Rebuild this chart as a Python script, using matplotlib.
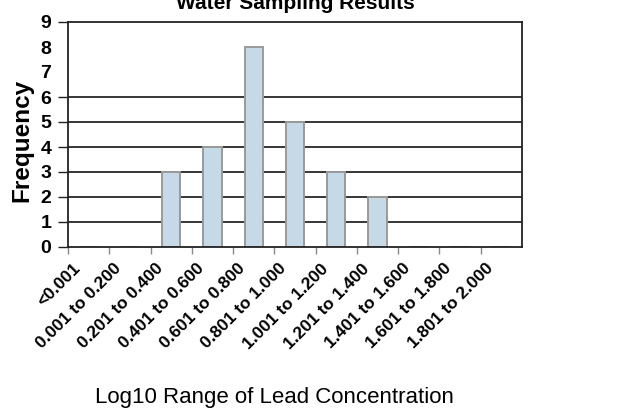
import matplotlib
matplotlib.use("Agg")
import matplotlib.pyplot as plt
import matplotlib.transforms as mtransforms
import numpy as np

categories = ["<0.001", "0.001 to 0.200", "0.201 to 0.400", "0.401 to 0.600",
              "0.601 to 0.800", "0.801 to 1.000", "1.001 to 1.200", "1.201 to 1.400",
              "1.401 to 1.600", "1.601 to 1.800", "1.801 to 2.000"]
frequency = [0, 0, 3, 4, 8, 5, 3, 2, 0, 0, 0]
y_ticks = list(range(0, 10))
grid_levels = [1, 2, 3, 4, 5, 6]
tick_mark_levels = [0, 1, 2, 3, 4, 5, 6, 9]

plt.rcParams['font.family'] = ['Liberation Sans', 'DejaVu Sans']

fig = plt.figure(figsize=(6.27, 4.09), dpi=100)
ax = fig.add_axes([68/627, 1-247/409, (522-68)/627, (247-22)/409])

x = np.arange(len(categories))
for g in grid_levels:
    ax.axhline(g, color='black', lw=1.1, zorder=1)
ax.bar(x, frequency, width=0.44, color='#c5d9e6', edgecolor='#9a9a9a', linewidth=1.4, zorder=2)

ax.set_xlim(-0.5, len(categories)-0.5)
ax.set_ylim(0, 9)

for s in ax.spines.values():
    s.set_color('#222222')
    s.set_linewidth(1.3)

ax.set_yticks(y_ticks)
ax.set_yticklabels([str(v) for v in y_ticks], fontsize=14, fontweight='bold')
for t, v in zip(ax.yaxis.get_major_ticks(), y_ticks):
    if v not in tick_mark_levels:
        t.tick1line.set_visible(False)
ax.tick_params(axis='y', direction='out', length=7, width=1, color='#222222', pad=5)

ax.set_xticks(x)
ax.set_xticklabels(categories, rotation=45, ha='right', rotation_mode='anchor',
                   fontsize=12.5, fontweight='bold')
ax.tick_params(axis='x', length=0, pad=10)
offset = mtransforms.ScaledTranslation(-16/100, 0, fig.dpi_scale_trans)
for lbl in ax.get_xticklabels():
    lbl.set_transform(lbl.get_transform() + offset)
ax.set_xticks(np.arange(-0.5, len(categories)-0.5, 1.0), minor=True)
ax.tick_params(axis='x', which='minor', direction='out', length=5, width=1, color='#888888')

fig.text(22/627, 1-140/409, "Frequency", rotation=90, ha='center', va='center',
         fontsize=17.5, fontweight='bold')
fig.text(274/627, 1-397/409, "Log10 Range of Lead Concentration", ha='center', va='center',
         fontsize=16)
fig.text(295/627, 1-9/409, "Water Sampling Results", ha='center', va='baseline',
         fontsize=15, fontweight='bold')

fig.savefig("out.png", dpi=100)
